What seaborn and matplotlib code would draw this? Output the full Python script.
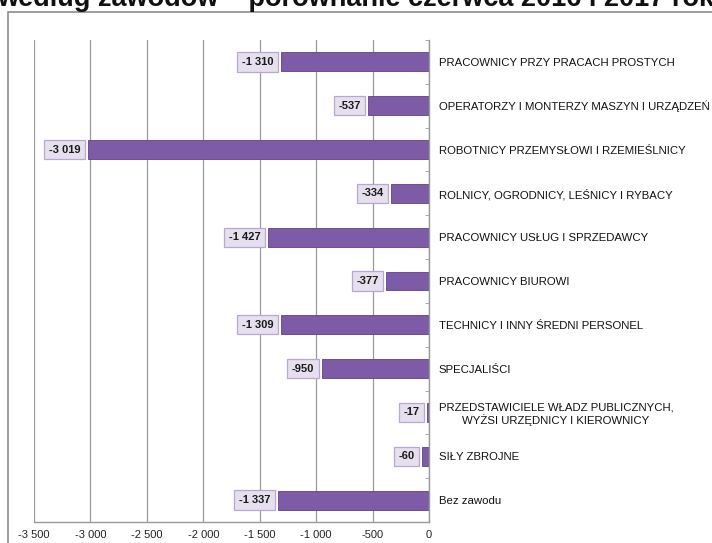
import pandas as pd
import matplotlib.pyplot as plt
import seaborn as sns
from matplotlib.patches import Rectangle
from matplotlib.ticker import FuncFormatter, FixedLocator

categories = [
    "PRACOWNICY PRZY PRACACH PROSTYCH",
    "OPERATORZY I MONTERZY MASZYN I URZĄDZEŃ",
    "ROBOTNICY PRZEMYSŁOWI I RZEMIEŚLNICY",
    "ROLNICY, OGRODNICY, LEŚNICY I RYBACY",
    "PRACOWNICY USŁUG I SPRZEDAWCY",
    "PRACOWNICY BIUROWI",
    "TECHNICY I INNY ŚREDNI PERSONEL",
    "SPECJALIŚCI",
    "PRZEDSTAWICIELE WŁADZ PUBLICZNYCH,\nWYŻSI URZĘDNICY I KIEROWNICY",
    "SIŁY ZBROJNE",
    "Bez zawodu",
]
values = [-1310, -537, -3019, -334, -1427, -377, -1309, -950, -17, -60, -1337]
x_ticks = [-3500, -3000, -2500, -2000, -1500, -1000, -500, 0]

title = "według zawodów – porównanie czerwca 2016 i 2017 roku"

data = pd.DataFrame({"zawod": categories, "zmiana": values})

sns.set_style("white")
plt.rcParams["font.family"] = ["Liberation Sans", "DejaVu Sans"]


def fmt(v, pos=None):
    s = f"{abs(int(v)):,}".replace(",", " ")
    return ("-" if v < 0 else "") + s


fig = plt.figure(figsize=(7.12, 5.43), dpi=100)

# outer chart frame (runs off the right and bottom edge)
fig.patches.append(Rectangle((8 / 712, -0.1), 1.0, 1 - 12 / 543 + 0.1,
                             transform=fig.transFigure, fill=False,
                             edgecolor="#8c8c8c", linewidth=1.2, zorder=0))

# title sits partly above the picture, as in the source
fig.text(-0.004, 1 - 6 / 543, title, ha="left", va="baseline",
         fontsize=19.5, fontweight="bold", color="#111111")

ax = fig.add_axes([34 / 712, 1 - 522 / 543, (429 - 34) / 712, (522 - 40) / 543])
sns.barplot(data=data, y="zawod", x="zmiana", orient="h", color="#7d5ba6",
            edgecolor="#5e4286", linewidth=0.6, width=0.43, saturation=1, ax=ax)

ax.set_xlim(-3500, 0)
ax.set_ylim(len(categories) - 0.5, -0.5)
ax.set_xlabel("")
ax.set_ylabel("")

# value labels in boxes
for i, v in enumerate(values):
    ax.annotate(fmt(v), xy=(v, i), xytext=(-5.5, 0), textcoords="offset points",
                ha="right", va="center", fontsize=8, fontweight="bold",
                color="#1a1a1a",
                bbox=dict(boxstyle="square,pad=0.42", facecolor="#e6e0ee",
                          edgecolor="#b8a8d0", linewidth=0.9))

# grid
ax.xaxis.set_major_locator(FixedLocator(x_ticks))
ax.xaxis.set_major_formatter(FuncFormatter(fmt))
ax.grid(axis="x", color="#9a9a9a", linewidth=0.9)
ax.set_axisbelow(True)

for side in ["top", "left"]:
    ax.spines[side].set_visible(False)
for side in ["bottom", "right"]:
    ax.spines[side].set_color("#9a9a9a")
    ax.spines[side].set_linewidth(1.0)

ax.tick_params(axis="x", direction="out", length=4, color="#9a9a9a",
               labelsize=8, labelcolor="#222222", pad=2)

# category labels on the right side of the zero axis
ax.yaxis.tick_right()
ax.tick_params(axis="y", which="major", length=0, pad=7, labelsize=8.2,
               labelcolor="#111111")
for lab in ax.get_yticklabels():
    lab.set_ha("left")
    lab.set_multialignment("center")
ax.yaxis.set_minor_locator(FixedLocator([i - 0.5 for i in range(len(categories) + 1)]))
ax.tick_params(axis="y", which="minor", direction="in", length=3,
               color="#9a9a9a", right=True, left=False)

plt.savefig("out.png", dpi=100)
